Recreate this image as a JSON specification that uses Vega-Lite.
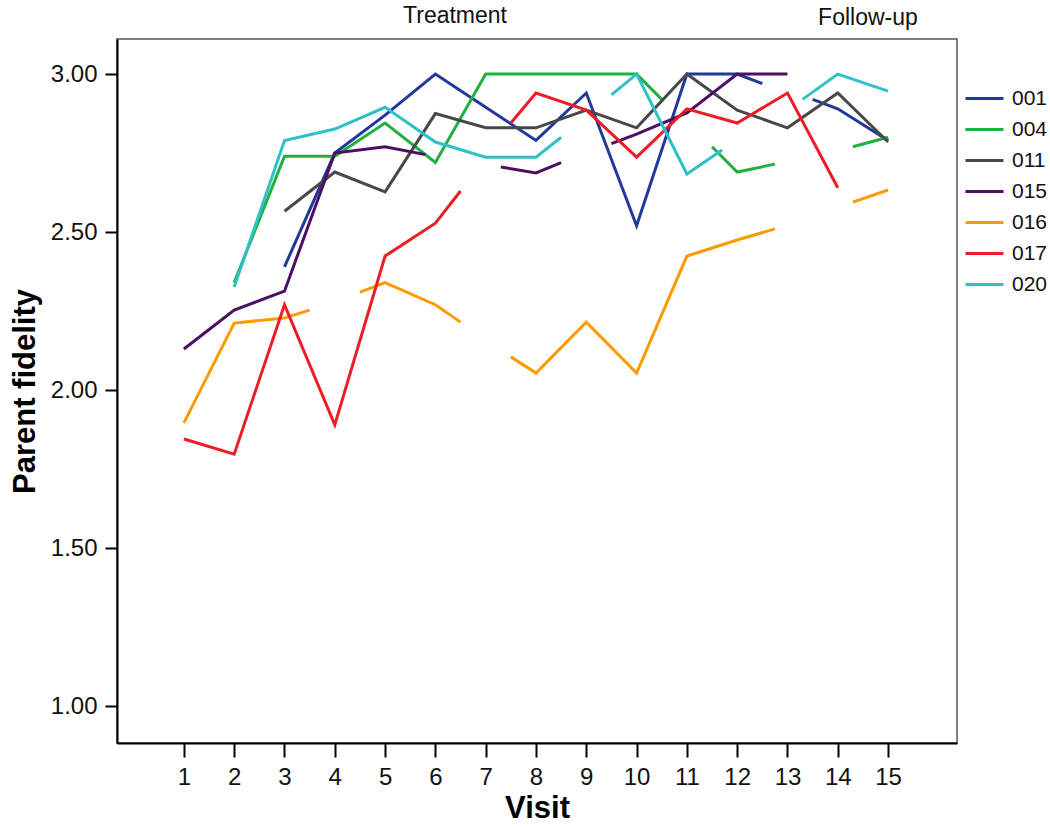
{
  "$schema": "https://vega.github.io/schema/vega-lite/v6.json",
  "autosize": {"type": "none"},
  "padding": {"left": 117, "top": 39, "right": 93, "bottom": 84},
  "width": 840,
  "height": 704,
  "background": "white",
  "config": {
    "view": {"stroke": "#555555", "strokeWidth": 1.5},
    "font": "Liberation Sans"
  },
  "datasets": {
    "series": [
      {"id": "001", "seg": "001a", "visit": 3, "fid": 2.39},
      {"id": "001", "seg": "001a", "visit": 4, "fid": 2.75},
      {"id": "001", "seg": "001a", "visit": 5, "fid": 2.87},
      {"id": "001", "seg": "001a", "visit": 6, "fid": 3.0},
      {"id": "001", "seg": "001a", "visit": 7, "fid": 2.895},
      {"id": "001", "seg": "001a", "visit": 8, "fid": 2.79},
      {"id": "001", "seg": "001a", "visit": 9, "fid": 2.94},
      {"id": "001", "seg": "001a", "visit": 10, "fid": 2.52},
      {"id": "001", "seg": "001a", "visit": 11, "fid": 3.0},
      {"id": "001", "seg": "001a", "visit": 12, "fid": 3.0},
      {"id": "001", "seg": "001a", "visit": 12.5, "fid": 2.97},
      {"id": "001", "seg": "001b", "visit": 13.5, "fid": 2.92},
      {"id": "001", "seg": "001b", "visit": 14, "fid": 2.89},
      {"id": "001", "seg": "001b", "visit": 15, "fid": 2.79},

      {"id": "004", "seg": "004a", "visit": 2, "fid": 2.34},
      {"id": "004", "seg": "004a", "visit": 3, "fid": 2.74},
      {"id": "004", "seg": "004a", "visit": 4, "fid": 2.74},
      {"id": "004", "seg": "004a", "visit": 5, "fid": 2.845},
      {"id": "004", "seg": "004a", "visit": 6, "fid": 2.72},
      {"id": "004", "seg": "004a", "visit": 7, "fid": 3.0},
      {"id": "004", "seg": "004a", "visit": 8, "fid": 3.0},
      {"id": "004", "seg": "004a", "visit": 9, "fid": 3.0},
      {"id": "004", "seg": "004a", "visit": 10, "fid": 3.0},
      {"id": "004", "seg": "004a", "visit": 10.5, "fid": 2.92},
      {"id": "004", "seg": "004b", "visit": 11.5, "fid": 2.77},
      {"id": "004", "seg": "004b", "visit": 12, "fid": 2.69},
      {"id": "004", "seg": "004b", "visit": 12.75, "fid": 2.715},
      {"id": "004", "seg": "004c", "visit": 14.3, "fid": 2.77},
      {"id": "004", "seg": "004c", "visit": 15, "fid": 2.8},

      {"id": "011", "seg": "011a", "visit": 3, "fid": 2.566},
      {"id": "011", "seg": "011a", "visit": 4, "fid": 2.69},
      {"id": "011", "seg": "011a", "visit": 5, "fid": 2.627},
      {"id": "011", "seg": "011a", "visit": 6, "fid": 2.875},
      {"id": "011", "seg": "011a", "visit": 7, "fid": 2.83},
      {"id": "011", "seg": "011a", "visit": 8, "fid": 2.83},
      {"id": "011", "seg": "011a", "visit": 9, "fid": 2.886},
      {"id": "011", "seg": "011a", "visit": 10, "fid": 2.83},
      {"id": "011", "seg": "011a", "visit": 11, "fid": 3.0},
      {"id": "011", "seg": "011a", "visit": 12, "fid": 2.886},
      {"id": "011", "seg": "011a", "visit": 13, "fid": 2.83},
      {"id": "011", "seg": "011a", "visit": 14, "fid": 2.94},
      {"id": "011", "seg": "011a", "visit": 15, "fid": 2.785},

      {"id": "015", "seg": "015a", "visit": 1, "fid": 2.13},
      {"id": "015", "seg": "015a", "visit": 2, "fid": 2.253},
      {"id": "015", "seg": "015a", "visit": 3, "fid": 2.313},
      {"id": "015", "seg": "015a", "visit": 4, "fid": 2.75},
      {"id": "015", "seg": "015a", "visit": 5, "fid": 2.77},
      {"id": "015", "seg": "015a", "visit": 5.8, "fid": 2.745},
      {"id": "015", "seg": "015b", "visit": 7.3, "fid": 2.706},
      {"id": "015", "seg": "015b", "visit": 8, "fid": 2.687},
      {"id": "015", "seg": "015b", "visit": 8.5, "fid": 2.72},
      {"id": "015", "seg": "015c", "visit": 9.5, "fid": 2.78},
      {"id": "015", "seg": "015c", "visit": 10, "fid": 2.81},
      {"id": "015", "seg": "015c", "visit": 11, "fid": 2.877},
      {"id": "015", "seg": "015c", "visit": 12, "fid": 3.0},
      {"id": "015", "seg": "015c", "visit": 13, "fid": 3.0},

      {"id": "016", "seg": "016a", "visit": 1, "fid": 1.896},
      {"id": "016", "seg": "016a", "visit": 2, "fid": 2.212},
      {"id": "016", "seg": "016a", "visit": 3, "fid": 2.228},
      {"id": "016", "seg": "016a", "visit": 3.5, "fid": 2.253},
      {"id": "016", "seg": "016b", "visit": 4.5, "fid": 2.31},
      {"id": "016", "seg": "016b", "visit": 5, "fid": 2.34},
      {"id": "016", "seg": "016b", "visit": 6, "fid": 2.27},
      {"id": "016", "seg": "016b", "visit": 6.5, "fid": 2.215},
      {"id": "016", "seg": "016c", "visit": 7.5, "fid": 2.105},
      {"id": "016", "seg": "016c", "visit": 8, "fid": 2.054},
      {"id": "016", "seg": "016c", "visit": 9, "fid": 2.215},
      {"id": "016", "seg": "016c", "visit": 10, "fid": 2.054},
      {"id": "016", "seg": "016c", "visit": 11, "fid": 2.424},
      {"id": "016", "seg": "016c", "visit": 12, "fid": 2.475},
      {"id": "016", "seg": "016c", "visit": 12.75, "fid": 2.51},
      {"id": "016", "seg": "016d", "visit": 14.3, "fid": 2.595},
      {"id": "016", "seg": "016d", "visit": 15, "fid": 2.633},

      {"id": "017", "seg": "017a", "visit": 1, "fid": 1.845},
      {"id": "017", "seg": "017a", "visit": 2, "fid": 1.797},
      {"id": "017", "seg": "017a", "visit": 3, "fid": 2.27},
      {"id": "017", "seg": "017a", "visit": 4, "fid": 1.89},
      {"id": "017", "seg": "017a", "visit": 5, "fid": 2.424},
      {"id": "017", "seg": "017a", "visit": 6, "fid": 2.528},
      {"id": "017", "seg": "017a", "visit": 6.5, "fid": 2.63},
      {"id": "017", "seg": "017b", "visit": 7.5, "fid": 2.845},
      {"id": "017", "seg": "017b", "visit": 8, "fid": 2.94},
      {"id": "017", "seg": "017b", "visit": 9, "fid": 2.886},
      {"id": "017", "seg": "017b", "visit": 10, "fid": 2.737},
      {"id": "017", "seg": "017b", "visit": 11, "fid": 2.89},
      {"id": "017", "seg": "017b", "visit": 12, "fid": 2.845},
      {"id": "017", "seg": "017b", "visit": 13, "fid": 2.94},
      {"id": "017", "seg": "017b", "visit": 14, "fid": 2.64},

      {"id": "020", "seg": "020a", "visit": 2, "fid": 2.326},
      {"id": "020", "seg": "020a", "visit": 3, "fid": 2.79},
      {"id": "020", "seg": "020a", "visit": 4, "fid": 2.826},
      {"id": "020", "seg": "020a", "visit": 5, "fid": 2.895},
      {"id": "020", "seg": "020a", "visit": 6, "fid": 2.785},
      {"id": "020", "seg": "020a", "visit": 7, "fid": 2.737},
      {"id": "020", "seg": "020a", "visit": 8, "fid": 2.737},
      {"id": "020", "seg": "020a", "visit": 8.5, "fid": 2.8},
      {"id": "020", "seg": "020b", "visit": 9.5, "fid": 2.934},
      {"id": "020", "seg": "020b", "visit": 10, "fid": 3.0},
      {"id": "020", "seg": "020b", "visit": 11, "fid": 2.684},
      {"id": "020", "seg": "020b", "visit": 11.7, "fid": 2.76},
      {"id": "020", "seg": "020c", "visit": 13.3, "fid": 2.92},
      {"id": "020", "seg": "020c", "visit": 14, "fid": 3.0},
      {"id": "020", "seg": "020c", "visit": 15, "fid": 2.946}
    ],
    "phases": [
      {"label": "Treatment", "visit": 6.39, "fid": 3.184},
      {"label": "Follow-up", "visit": 14.6, "fid": 3.177}
    ]
  },
  "layer": [
    {
      "data": {"name": "series"},
      "mark": {"type": "line", "strokeWidth": 3, "strokeJoin": "miter", "strokeCap": "butt"},
      "encoding": {
        "x": {
          "field": "visit", "type": "quantitative",
          "scale": {"domain": [-0.33, 16.37], "nice": false, "zero": false},
          "axis": {
            "values": [1,2,3,4,5,6,7,8,9,10,11,12,13,14,15],
            "title": "Visit", "grid": false,
            "domainColor": "black", "domainWidth": 2,
            "tickColor": "black", "tickWidth": 2, "tickSize": 14,
            "labelFontSize": 24, "labelColor": "#111111", "labelPadding": 8,
            "labelFont": "Liberation Sans",
            "titleFontSize": 31, "titleFontWeight": "bold", "titleColor": "black",
            "titleFont": "Liberation Sans", "titlePadding": 4
          }
        },
        "y": {
          "field": "fid", "type": "quantitative",
          "scale": {"domain": [0.883, 3.111], "nice": false, "zero": false},
          "axis": {
            "values": [1, 1.5, 2, 2.5, 3], "format": ".2f",
            "title": "Parent fidelity", "grid": false,
            "domainColor": "black", "domainWidth": 2,
            "tickColor": "black", "tickWidth": 2, "tickSize": 12,
            "labelFontSize": 24, "labelColor": "#111111", "labelPadding": 8,
            "labelFont": "Liberation Sans",
            "titleFontSize": 31, "titleFontWeight": "bold", "titleColor": "black",
            "titleFont": "Liberation Sans", "titlePadding": 9
          }
        },
        "color": {
          "field": "id", "type": "nominal",
          "scale": {
            "domain": ["001", "004", "011", "015", "016", "017", "020"],
            "range": ["#22389a", "#20b040", "#484848", "#4c0f62", "#ff9a00", "#ee1c25", "#30c0c8"]
          },
          "legend": {
            "title": null, "orient": "none", "legendX": 847, "legendY": 39,
            "symbolType": "stroke", "symbolSize": 1444, "symbolStrokeWidth": 3,
            "labelFontSize": 21, "labelFont": "Liberation Sans", "labelColor": "#111111",
            "labelOffset": 7, "rowPadding": -11, "padding": 0
          }
        },
        "detail": {"field": "seg", "type": "nominal"}
      }
    },
    {
      "mark": {"type": "rule", "color": "black", "strokeWidth": 4},
      "encoding": {"x": {"datum": 12.5}}
    },
    {
      "data": {"name": "phases"},
      "mark": {"type": "text", "fontSize": 23, "font": "Liberation Sans", "color": "#111111", "clip": false},
      "encoding": {
        "x": {"field": "visit", "type": "quantitative"},
        "y": {"field": "fid", "type": "quantitative"},
        "text": {"field": "label"}
      }
    }
  ]
}
